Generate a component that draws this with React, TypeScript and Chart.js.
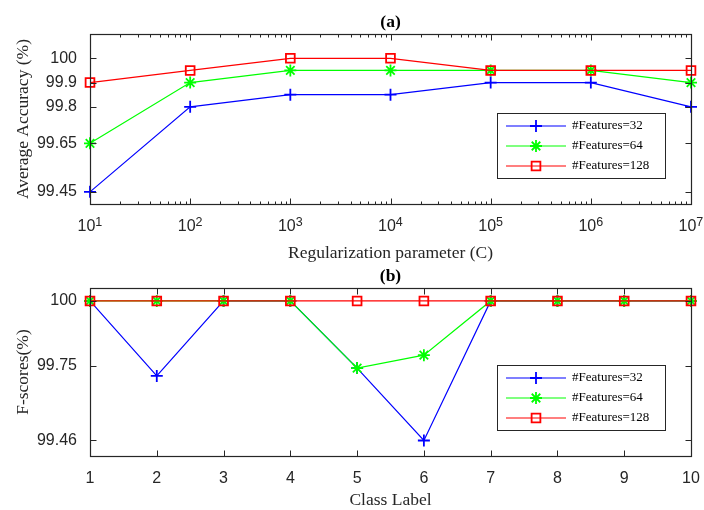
import React, { useEffect, useRef } from 'react';
import { Chart, registerables } from 'chart.js';
import { drawPoint } from 'chart.js/helpers';

Chart.register(...registerables);

// ---------- data: panel (a) ----------
const cValues = [1e1, 1e2, 1e3, 1e4, 1e5, 1e6, 1e7];
const cTickBase = '10';
const cTickExponents = ['1', '2', '3', '4', '5', '6', '7'];
const accuracyTicks = [99.45, 99.65, 99.8, 99.9, 100];
const accuracyTickLabels = ['99.45', '99.65', '99.8', '99.9', '100'];
const acc32 = [99.45, 99.8, 99.85, 99.85, 99.9, 99.9, 99.8];
const acc64 = [99.65, 99.9, 99.95, 99.95, 99.95, 99.95, 99.9];
const acc128 = [99.9, 99.95, 100, 100, 99.95, 99.95, 99.95];

// ---------- data: panel (b) ----------
const classLabels = [1, 2, 3, 4, 5, 6, 7, 8, 9, 10];
const classTickLabels = ['1', '2', '3', '4', '5', '6', '7', '8', '9', '10'];
const fscoreTicks = [99.46, 99.75, 100];
const fscoreTickLabels = ['99.46', '99.75', '100'];
const f32 = [100, 99.71, 100, 100, 99.74, 99.46, 100, 100, 100, 100];
const f64 = [100, 100, 100, 100, 99.74, 99.79, 100, 100, 100, 100];
const f128 = [100, 100, 100, 100, 100, 100, 100, 100, 100, 100];

const seriesNames = ['#Features=32', '#Features=64', '#Features=128'];
const seriesColors = ['#0000ff', '#00ff00', '#ff0000'];
const seriesMarkers = ['cross', 'star', 'rect'];

const AXIS_COLOR = '#262626';
const SANS = '"Liberation Sans", Arial, sans-serif';
const SERIF = '"Liberation Serif", "Times New Roman", serif';

const decoPlugin = {
  id: 'deco',
  afterDatasetsDraw(chart: any, _args: any, opts: any) {
    const ctx = chart.ctx;
    const area = chart.chartArea;
    const xs = chart.scales.x;
    const ys = chart.scales.y;
    ctx.save();
    // frame
    ctx.strokeStyle = AXIS_COLOR;
    ctx.lineWidth = 1.2;
    const L = Math.round(area.left) + 0.5;
    const R = Math.round(area.right) + 0.5;
    const T = Math.round(area.top) + 0.5;
    const B = Math.round(area.bottom) + 0.5;
    ctx.strokeRect(L, T, R - L, B - T);
    ctx.lineWidth = 1;
    ctx.beginPath();
    // y ticks (left & right, inward)
    ys.ticks.forEach((t: any) => {
      const y = Math.round(ys.getPixelForValue(t.value)) + 0.5;
      ctx.moveTo(L, y); ctx.lineTo(L + 6, y);
      ctx.moveTo(R, y); ctx.lineTo(R - 6, y);
    });
    // x major ticks (bottom & top, inward)
    xs.ticks.forEach((t: any) => {
      const x = Math.round(xs.getPixelForValue(t.value)) + 0.5;
      ctx.moveTo(x, B); ctx.lineTo(x, B - 6);
      ctx.moveTo(x, T); ctx.lineTo(x, T + 6);
    });
    // log minor ticks
    if (opts.logMinor) {
      for (let e = 1; e < 7; e++) {
        for (let m = 2; m <= 9; m++) {
          const x = Math.round(xs.getPixelForValue(m * Math.pow(10, e))) + 0.5;
          ctx.moveTo(x, B); ctx.lineTo(x, B - 3);
          ctx.moveTo(x, T); ctx.lineTo(x, T + 3);
        }
      }
    }
    ctx.stroke();

    // exponents of the power-of-ten tick labels
    if (opts.exponents) {
      ctx.fillStyle = AXIS_COLOR;
      ctx.font = `12.5px ${SANS}`;
      ctx.textAlign = 'left';
      ctx.textBaseline = 'middle';
      xs.ticks.forEach((t: any, i: number) => {
        const x = xs.getPixelForValue(t.value);
        ctx.fillText(opts.exponents[i], x + 5.3, area.bottom + 18.5);
      });
    }

    // panel title
    ctx.fillStyle = '#000';
    ctx.font = `bold 17.5px ${SERIF}`;
    ctx.textAlign = 'center';
    ctx.textBaseline = 'middle';
    ctx.fillText(opts.title, (area.left + area.right) / 2, area.top - 11.5);

    // legend box (inside, south-east)
    const bw = 168, bh = 65;
    const bx = Math.round(area.right - 26 - bw);
    const by = Math.round(area.bottom - 26 - bh);
    ctx.fillStyle = '#fff';
    ctx.fillRect(bx, by, bw, bh);
    ctx.strokeStyle = AXIS_COLOR;
    ctx.lineWidth = 1;
    ctx.strokeRect(bx + 0.5, by + 0.5, bw, bh);
    chart.data.datasets.forEach((ds: any, i: number) => {
      const y = by + 13 + i * 20;
      ctx.strokeStyle = ds.borderColor;
      ctx.lineWidth = ds.borderWidth;
      ctx.beginPath();
      ctx.moveTo(bx + 9, y);
      ctx.lineTo(bx + 69, y);
      ctx.stroke();
      ctx.fillStyle = ds.pointBackgroundColor;
      ctx.lineWidth = ds.pointBorderWidth;
      drawPoint(ctx, { pointStyle: ds.pointStyle, radius: ds.pointRadius, rotation: 0, borderWidth: ds.pointBorderWidth }, bx + 39, y);
      ctx.fillStyle = '#000';
      ctx.font = `13px ${SERIF}`;
      ctx.textAlign = 'left';
      ctx.textBaseline = 'middle';
      ctx.fillText(ds.label, bx + 75, y);
    });
    ctx.restore();
  },
};

function makeDataset(i: number, xsVals: number[], ysVals: number[]) {
  return {
    label: seriesNames[i],
    data: xsVals.map((x, k) => ({ x, y: ysVals[k] })),
    borderColor: seriesColors[i],
    backgroundColor: seriesColors[i],
    borderWidth: 1.2,
    pointStyle: seriesMarkers[i],
    pointRadius: i === 2 ? 6.2 : 6,
    pointBorderWidth: 1.8,
    pointBorderColor: seriesColors[i],
    pointBackgroundColor: i === 2 ? 'rgba(0,0,0,0)' : seriesColors[i],
    tension: 0,
    clip: false,
    order: 2 - i,
  };
}

function yAxis(min: number, max: number, ticks: number[], labels: string[], title: string) {
  return {
    type: 'linear',
    min,
    max,
    afterBuildTicks: (s: any) => { s.ticks = ticks.map((v) => ({ value: v })); },
    afterFit: (s: any) => { s.width = 90; s.paddingTop = 0; s.paddingBottom = 0; },
    grid: { display: false, drawTicks: false },
    border: { display: false },
    ticks: {
      padding: 13,
      color: AXIS_COLOR,
      font: { family: SANS, size: 16 },
      callback: (_v: any, i: number) => labels[i],
    },
    title: {
      display: true,
      text: title,
      color: AXIS_COLOR,
      font: { family: SERIF, size: 17.5, lineHeight: 1 },
      padding: { top: 15, bottom: 0 },
    },
  };
}

function xFit(h: number) {
  return (s: any) => {
    s.height = h;
    s.paddingLeft = 0;
    s.paddingRight = 0;
  };
}

function accuracyConfig(): any {
  return {
    type: 'line',
    data: {
      datasets: [
        makeDataset(0, cValues, acc32),
        makeDataset(1, cValues, acc64),
        makeDataset(2, cValues, acc128),
      ],
    },
    options: {
      responsive: false,
      animation: false,
      devicePixelRatio: 1,
      layout: { padding: { left: 0, right: 13, top: 34, bottom: 0 }, autoPadding: false },
      plugins: {
        legend: { display: false },
        tooltip: { enabled: false },
        deco: { title: '(a)', logMinor: true, exponents: cTickExponents },
      },
      scales: {
        x: {
          type: 'logarithmic',
          min: cValues[0],
          max: cValues[cValues.length - 1],
          afterBuildTicks: (s: any) => { s.ticks = cValues.map((v) => ({ value: v })); },
          afterFit: xFit(61),
          grid: { display: false, drawTicks: false },
          border: { display: false },
          ticks: {
            padding: 13,
            labelOffset: -3.5,
            color: AXIS_COLOR,
            maxRotation: 0,
            autoSkip: false,
            font: { family: SANS, size: 16 },
            callback: () => cTickBase,
          },
          title: {
            display: true,
            text: 'Regularization parameter (C)',
            color: AXIS_COLOR,
            font: { family: SERIF, size: 17.5, lineHeight: 1 },
            padding: { top: 0, bottom: 3 },
          },
        },
        y: yAxis(99.4, 100.1, accuracyTicks, accuracyTickLabels, 'Average Accuracy (%)'),
      },
    },
    plugins: [decoPlugin],
  };
}

function fscoreConfig(): any {
  return {
    type: 'line',
    data: {
      datasets: [
        makeDataset(0, classLabels, f32),
        makeDataset(1, classLabels, f64),
        makeDataset(2, classLabels, f128),
      ],
    },
    options: {
      responsive: false,
      animation: false,
      devicePixelRatio: 1,
      layout: { padding: { left: 0, right: 13, top: 38, bottom: 0 }, autoPadding: false },
      plugins: {
        legend: { display: false },
        tooltip: { enabled: false },
        deco: { title: '(b)', logMinor: false },
      },
      scales: {
        x: {
          type: 'linear',
          min: classLabels[0],
          max: classLabels[classLabels.length - 1],
          afterBuildTicks: (s: any) => { s.ticks = classLabels.map((v) => ({ value: v })); },
          afterFit: xFit(54),
          grid: { display: false, drawTicks: false },
          border: { display: false },
          ticks: {
            padding: 12.5,
            color: AXIS_COLOR,
            maxRotation: 0,
            autoSkip: false,
            font: { family: SANS, size: 16 },
            callback: (_v: any, i: number) => classTickLabels[i],
          },
          title: {
            display: true,
            text: 'Class Label',
            color: AXIS_COLOR,
            font: { family: SERIF, size: 17.5, lineHeight: 1 },
            padding: { top: 0, bottom: 0.5 },
          },
        },
        y: yAxis(99.4, 100.05, fscoreTicks, fscoreTickLabels, 'F-scores(%)'),
      },
    },
    plugins: [decoPlugin],
  };
}

function ChartCanvas({ makeConfig, top, height }: { makeConfig: () => any; top: number; height: number }) {
  const ref = useRef<HTMLCanvasElement>(null);
  useEffect(() => {
    const chart = new Chart(ref.current as HTMLCanvasElement, makeConfig());
    return () => chart.destroy();
  }, [makeConfig]);
  return (
    <canvas
      ref={ref}
      width={704}
      height={height}
      style={{ position: 'absolute', left: 0, top, width: 704, height, display: 'block' }}
    />
  );
}

export default function App() {
  return (
    <div style={{ position: 'fixed', left: 0, top: 0, width: 704, height: 510, background: '#fff', overflow: 'hidden' }}>
      <ChartCanvas makeConfig={accuracyConfig} top={0} height={265} />
      <ChartCanvas makeConfig={fscoreConfig} top={250} height={260} />
    </div>
  );
}
